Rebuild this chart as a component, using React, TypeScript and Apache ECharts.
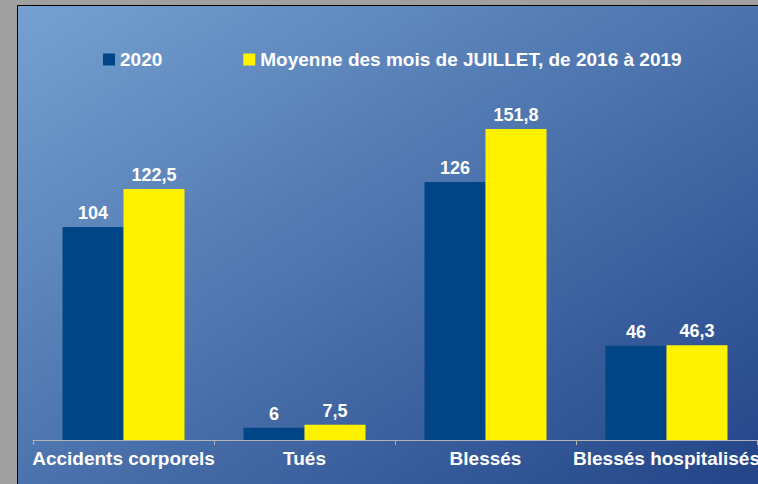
import React, { useEffect, useRef } from "react";
import * as echarts from "echarts";

const categories = ["Accidents corporels", "Tués", "Blessés", "Blessés hospitalisés"];
const seriesNames = ["2020", "Moyenne des mois de JUILLET, de 2016 à 2019"];
const values2020 = [104, 6, 126, 46];
const valuesAvg = [122.5, 7.5, 151.8, 46.3];

const FONT = "Liberation Sans, Arial, sans-serif";

export default function App() {
  const ref = useRef<HTMLDivElement>(null);
  useEffect(() => {
    if (!ref.current) return;
    const chart = echarts.init(ref.current, null, { renderer: "svg" });
    const fmt = (p: any) => String(p.value).replace(".", ",");
    const label = {
      show: true,
      position: "top",
      distance: 5,
      color: "#ffffff",
      fontWeight: "bold",
      fontSize: 18,
      fontFamily: FONT,
      formatter: fmt,
    };
    chart.setOption({
      animation: false,
      backgroundColor: "#a0a0a0",
      graphic: [
        {
          type: "rect",
          z: -10,
          silent: true,
          shape: { x: 17.5, y: 5.5, width: 800, height: 520 },
          style: {
            fill: new echarts.graphic.LinearGradient(0, 0, 0.9, 0.9, [
              { offset: 0, color: "#75a1d1" },
              { offset: 1, color: "#25478a" },
            ]),
            stroke: "#000000",
            lineWidth: 1,
          },
        },
      ],
      legend: {
        left: 98,
        top: 45,
        itemWidth: 12,
        itemHeight: 12,
        itemGap: 81,
        icon: "rect",
        textStyle: { color: "#ffffff", fontWeight: "bold", fontSize: 19, fontFamily: FONT },
        data: seriesNames,
      },
      grid: {
        left: 33,
        width: 724,
        top: 112.3,
        bottom: 44,
        containLabel: false,
        outerBoundsMode: "none",
      },
      xAxis: {
        type: "category",
        data: categories,
        axisLine: { lineStyle: { color: "#b3b3b3", width: 1 } },
        axisTick: { show: true, length: 5, lineStyle: { color: "#b3b3b3" } },
        axisLabel: {
          interval: 0,
          color: "#ffffff",
          fontWeight: "bold",
          fontSize: 19,
          fontFamily: FONT,
          margin: 9,
          hideOverlap: false,
        },
      },
      yAxis: { type: "value", min: 0, max: 160, show: false, splitLine: { show: false } },
      series: [
        {
          name: seriesNames[0],
          type: "bar",
          data: values2020,
          barWidth: 61,
          barGap: "0%",
          itemStyle: { color: "#004586" },
          label,
        },
        {
          name: seriesNames[1],
          type: "bar",
          data: valuesAvg,
          barWidth: 61,
          barGap: "0%",
          itemStyle: { color: "#fff200" },
          label,
        },
      ],
    });
    return () => chart.dispose();
  }, []);
  return (
    <div style={{ position: "fixed", left: 0, top: 0, width: 758, height: 484 }}>
      <div ref={ref} style={{ width: 758, height: 484 }} />
    </div>
  );
}
